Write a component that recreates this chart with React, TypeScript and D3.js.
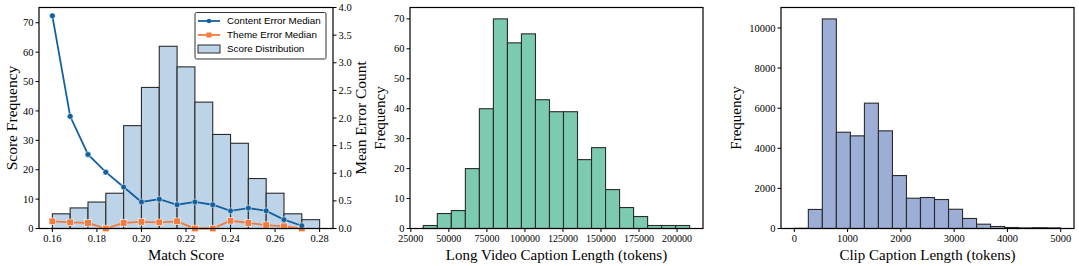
import React from 'react'
import * as d3 from 'd3'

// panel 1: match score histogram + error medians
const scoreBinStart = 0.16
const scoreBinWidth = 0.008
const scoreCounts = [5, 7, 9, 12, 35, 48, 62, 55, 43, 32, 29, 17, 12, 5, 3]
const contentErrorMedian = [3.85, 2.03, 1.34, 1.02, 0.75, 0.48, 0.53, 0.43, 0.48, 0.43, 0.32, 0.37, 0.32, 0.16, 0.05]
const themeErrorMedian = [0.13, 0.11, 0.1, 0.0, 0.1, 0.12, 0.11, 0.13, 0.0, 0.0, 0.14, 0.1, 0.06, 0.04, 0.0]
const scoreTicks = [0.16, 0.18, 0.2, 0.22, 0.24, 0.26, 0.28]
const freqTicks1 = [0, 10, 20, 30, 40, 50, 60, 70]
const errorTicks = [0, 0.5, 1, 1.5, 2, 2.5, 3, 3.5, 4]

// panel 2: long video caption length
const longBinStart = 33200
const longBinWidth = 9215
const longCounts = [1, 5, 6, 20, 40, 70, 62, 65, 43, 39, 39, 23, 27, 13, 7, 4, 1, 1, 1]
const longTicks = [25000, 50000, 75000, 100000, 125000, 150000, 175000, 200000]
const freqTicks2 = [0, 10, 20, 30, 40, 50, 60, 70]

// panel 3: clip caption length
const clipBinStart = 0
const clipBinWidth = 5000 / 19
const clipCounts = [10, 950, 10450, 4800, 4620, 6250, 4870, 2640, 1510, 1545, 1445, 960, 500, 215, 100, 50, 30, 40, 30]
const clipTicks = [0, 1000, 2000, 3000, 4000, 5000]
const freqTicks3 = [0, 2000, 4000, 6000, 8000, 10000]

const serif = '"Liberation Serif", "Times New Roman", serif'
const sans = '"Liberation Sans", Arial, sans-serif'
const top = 7.5
const bottom = 228.5

const fmt2 = d3.format('.2f')
const fmt1 = d3.format('.1f')

function Frame({ left, right }) {
  return <rect x={left} y={top} width={right - left} height={bottom - top} fill="none" stroke="#000" strokeWidth={1.2} />
}

function XTicks({ scale, ticks, fmt, size = 10.5 }) {
  return (
    <g>
      {ticks.map(t => (
        <g key={t}>
          <line x1={scale(t)} x2={scale(t)} y1={bottom} y2={bottom + 3.5} stroke="#000" />
          <text x={scale(t)} y={bottom + 13.5} textAnchor="middle" fontFamily={serif} fontSize={size}>{fmt(t)}</text>
        </g>
      ))}
    </g>
  )
}

function YTicks({ scale, ticks, fmt, x, side = 'left' }) {
  const d = side === 'left' ? -1 : 1
  return (
    <g>
      {ticks.map(t => (
        <g key={t}>
          <line x1={x} x2={x + d * 3.5} y1={scale(t)} y2={scale(t)} stroke="#000" />
          <text x={x + d * 5.5} y={scale(t) + 3.6} textAnchor={side === 'left' ? 'end' : 'start'} fontFamily={serif} fontSize={10.5}>{fmt(t)}</text>
        </g>
      ))}
    </g>
  )
}

function Bars({ counts, start, width, x, y, fill }) {
  return (
    <g>
      {counts.map((c, i) => (
        <rect key={i}
          x={x(start + i * width)}
          y={y(c)}
          width={x(start + (i + 1) * width) - x(start + i * width)}
          height={bottom - y(c)}
          fill={fill} stroke="#2b2b2b" strokeWidth={1.1} />
      ))}
    </g>
  )
}

function Panel1() {
  const left = 39, right = 333
  const x = d3.scaleLinear().domain([0.154, 0.286]).range([left, right])
  const y = d3.scaleLinear().domain([0, 75.2]).range([bottom, top])
  const yR = d3.scaleLinear().domain([0, 4]).range([bottom, top])
  const xs = contentErrorMedian.map((_, i) => scoreBinStart + i * scoreBinWidth)
  const line = d3.line<number>().x((_, i) => x(xs[i])).y(v => yR(v))
  const blue = '#14609f'
  const orange = '#f47b3d'
  return (
    <g>
      <Bars counts={scoreCounts} start={scoreBinStart} width={scoreBinWidth} x={x} y={y} fill="#bdd4e8" />
      <path d={line(themeErrorMedian)} fill="none" stroke={orange} strokeWidth={1.8} />
      {themeErrorMedian.map((v, i) => (
        <rect key={i} x={x(xs[i]) - 3.3} y={yR(v) - 3.3} width={6.6} height={6.6} fill={orange} stroke="#fff" strokeWidth={0.6} />
      ))}
      <path d={line(contentErrorMedian)} fill="none" stroke={blue} strokeWidth={1.8} />
      {contentErrorMedian.map((v, i) => (
        <circle key={i} cx={x(xs[i])} cy={yR(v)} r={2.9} fill={blue} stroke="#fff" strokeWidth={0.5} />
      ))}
      <Frame left={left} right={right} />
      <XTicks scale={x} ticks={scoreTicks} fmt={fmt2} />
      <YTicks scale={y} ticks={freqTicks1} fmt={String} x={left} />
      <YTicks scale={yR} ticks={errorTicks} fmt={fmt1} x={right} side="right" />
      <text x={(left + right) / 2} y={260} textAnchor="middle" fontFamily={serif} fontSize={15}>Match Score</text>
      <text transform={`translate(17,${(top + bottom) / 2}) rotate(-90)`} textAnchor="middle" fontFamily={serif} fontSize={15.5}>Score Frequency</text>
      <text transform={`translate(366,${(top + bottom) / 2}) rotate(-90)`} textAnchor="middle" fontFamily={serif} fontSize={15.5}>Mean Error Count</text>
      <g>
        <rect x={195} y={12.5} width={131} height={46.5} fill="#fff" fillOpacity={0.85} stroke="#333" strokeWidth={1} rx={1.5} />
        <line x1={198} x2={220} y1={21} y2={21} stroke={blue} strokeWidth={1.8} />
        <circle cx={209} cy={21} r={2.3} fill={blue} />
        <text x={227} y={24.4} fontFamily={sans} fontSize={9.8}>Content Error Median</text>
        <line x1={198} x2={220} y1={35} y2={35} stroke={orange} strokeWidth={1.8} />
        <rect x={206.5} y={32.5} width={5} height={5} fill={orange} />
        <text x={227} y={38.4} fontFamily={sans} fontSize={9.8}>Theme Error Median</text>
        <rect x={198} y={45} width={22} height={8} fill="#bdd4e8" stroke="#2b2b2b" strokeWidth={1} />
        <text x={227} y={52.4} fontFamily={sans} fontSize={9.8}>Score Distribution</text>
      </g>
    </g>
  )
}

function Panel2() {
  const left = 410, right = 703
  const x = d3.scaleLinear().domain([24450, 217050]).range([left, right])
  const y = d3.scaleLinear().domain([0, 73.8]).range([bottom, top])
  return (
    <g>
      <Bars counts={longCounts} start={longBinStart} width={longBinWidth} x={x} y={y} fill="#7ccbb1" />
      <Frame left={left} right={right} />
      <XTicks scale={x} ticks={longTicks} fmt={String} size={10} />
      <YTicks scale={y} ticks={freqTicks2} fmt={String} x={left} />
      <text x={(left + right) / 2} y={260} textAnchor="middle" fontFamily={serif} fontSize={15}>Long Video Caption Length (tokens)</text>
      <text transform={`translate(385,${(top + bottom) / 2}) rotate(-90)`} textAnchor="middle" fontFamily={serif} fontSize={15}>Frequency</text>
    </g>
  )
}

function Panel3() {
  const left = 781, right = 1074
  const x = d3.scaleLinear().domain([-250, 5250]).range([left, right])
  const y = d3.scaleLinear().domain([0, 11020]).range([bottom, top])
  return (
    <g>
      <Bars counts={clipCounts} start={clipBinStart} width={clipBinWidth} x={x} y={y} fill="#9caed5" />
      <Frame left={left} right={right} />
      <XTicks scale={x} ticks={clipTicks} fmt={String} />
      <YTicks scale={y} ticks={freqTicks3} fmt={String} x={left} />
      <text x={(left + right) / 2} y={260} textAnchor="middle" fontFamily={serif} fontSize={15}>Clip Caption Length (tokens)</text>
      <text transform={`translate(741,${(top + bottom) / 2}) rotate(-90)`} textAnchor="middle" fontFamily={serif} fontSize={15}>Frequency</text>
    </g>
  )
}

export default function App() {
  return (
    <svg width={1079} height={266} style={{ position: 'absolute', left: 0, top: 0, background: '#fff' }}>
      <Panel1 />
      <Panel2 />
      <Panel3 />
    </svg>
  )
}
